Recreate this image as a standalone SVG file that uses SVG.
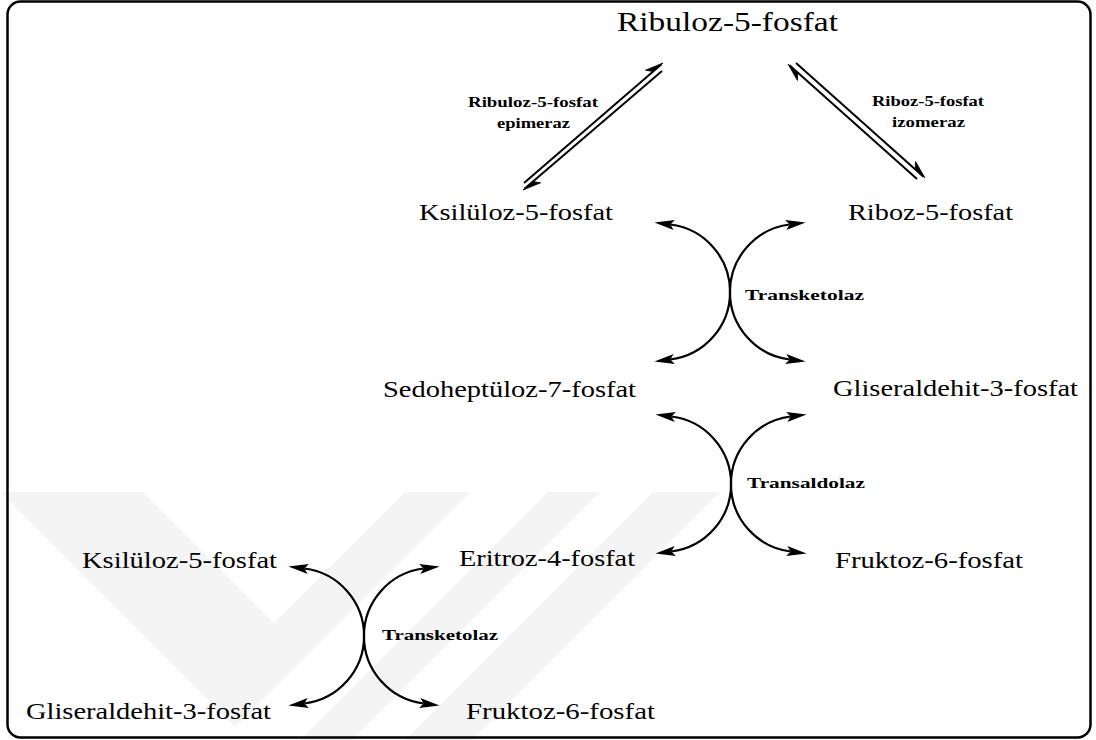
<svg xmlns="http://www.w3.org/2000/svg" width="1096" height="740" viewBox="0 0 1096 740">
<style>
.t{font-family:"Liberation Serif","Times New Roman",serif;font-size:24px;fill:#000}
.tt{font-family:"Liberation Serif","Times New Roman",serif;font-size:27px;fill:#000}
.e{font-family:"Liberation Serif","Times New Roman",serif;font-size:15px;font-weight:bold;fill:#000}
.arc{fill:none;stroke:#000;stroke-width:2.2;marker-start:url(#ah);marker-end:url(#ah)}
.ln{fill:none;stroke:#000;stroke-width:2}
.hp{fill:#000;stroke:#000;stroke-width:0.8;stroke-linejoin:round}
.wm{fill:#f4f4f4}
</style>
<defs>
<marker id="ah" markerUnits="userSpaceOnUse" viewBox="-6 -7 24 14" refX="0" refY="0" markerWidth="24" markerHeight="14" orient="auto-start-reverse" overflow="visible">
<path d="M16,0 L-4,-5 L0,0 L-4,5 Z" fill="#000"/>
</marker>
</defs>
<rect width="1096" height="740" fill="#fff"/>
<g id="watermark">
<polygon class="wm" points="0,492 143,492 274,623 405,492 470,492 235,727"/>
<polygon class="wm" points="548,492 600,492 352,740 300,740"/>
<polygon class="wm" points="653,492 720,492 472,740 405,740"/>
</g>
<rect id="frame" x="7.5" y="1.5" width="1083" height="736" rx="13" ry="13" fill="none" stroke="#000" stroke-width="2.5"/>
<g id="connectors">
<line class="ln" x1="524" y1="183" x2="661.5" y2="64.3"/>
<polygon class="hp" points="663,63 645.45,70.23 653.16,71.5"/>
<line class="ln" x1="662" y1="71" x2="524.5" y2="188.7"/>
<polygon class="hp" points="523,190 540.57,182.85 532.87,181.55"/>
<line class="ln" x1="917" y1="179" x2="789.5" y2="65.3"/>
<polygon class="hp" points="788,64 797.45,80.46 797.7,72.65"/>
<line class="ln" x1="796" y1="63" x2="923.5" y2="176.7"/>
<polygon class="hp" points="925,178 915.55,161.54 915.3,169.35"/>
<path class="arc" d="M670.3,224.5 A68,68 0 0 1 670.3,359.5"/>
<path class="arc" d="M789.7,224.5 A68,68 0 0 0 789.7,359.5"/>
<path class="arc" d="M671.3,416.5 A68,68 0 0 1 671.3,551.5"/>
<path class="arc" d="M790.7,416.5 A68,68 0 0 0 790.7,551.5"/>
<path class="arc" d="M304.3,568.5 A68,68 0 0 1 304.3,703.5"/>
<path class="arc" d="M423.7,568.5 A68,68 0 0 0 423.7,703.5"/>
</g>
<g id="enzyme-labels">
<text class="e" x="468" y="107" textLength="130" lengthAdjust="spacingAndGlyphs">Ribuloz-5-fosfat</text>
<text class="e" x="497" y="128" textLength="73" lengthAdjust="spacingAndGlyphs">epimeraz</text>
<text class="e" x="872" y="106" textLength="112" lengthAdjust="spacingAndGlyphs">Riboz-5-fosfat</text>
<text class="e" x="892" y="127" textLength="73" lengthAdjust="spacingAndGlyphs">izomeraz</text>
<text class="e" x="745" y="300" textLength="119" lengthAdjust="spacingAndGlyphs">Transketolaz</text>
<text class="e" x="747" y="488" textLength="118" lengthAdjust="spacingAndGlyphs">Transaldolaz</text>
<text class="e" x="382" y="640" textLength="116" lengthAdjust="spacingAndGlyphs">Transketolaz</text>
</g>
<g id="n-ribuloz"><text class="tt" x="617" y="31" textLength="221" lengthAdjust="spacingAndGlyphs">Ribuloz-5-fosfat</text></g>
<g id="n-ksiluloz1"><text class="t" x="419" y="220" textLength="194" lengthAdjust="spacingAndGlyphs">Ksilüloz-5-fosfat</text></g>
<g id="n-riboz"><text class="t" x="848" y="220" textLength="165" lengthAdjust="spacingAndGlyphs">Riboz-5-fosfat</text></g>
<g id="n-sedo"><text class="t" x="383" y="397" textLength="253" lengthAdjust="spacingAndGlyphs">Sedoheptüloz-7-fosfat</text></g>
<g id="n-glis1"><text class="t" x="833" y="396" textLength="245" lengthAdjust="spacingAndGlyphs">Gliseraldehit-3-fosfat</text></g>
<g id="n-eritroz"><text class="t" x="459" y="566" textLength="176" lengthAdjust="spacingAndGlyphs">Eritroz-4-fosfat</text></g>
<g id="n-fruktoz1"><text class="t" x="835" y="568" textLength="188" lengthAdjust="spacingAndGlyphs">Fruktoz-6-fosfat</text></g>
<g id="n-ksiluloz2"><text class="t" x="82" y="568" textLength="195" lengthAdjust="spacingAndGlyphs">Ksilüloz-5-fosfat</text></g>
<g id="n-glis2"><text class="t" x="26" y="719" textLength="245" lengthAdjust="spacingAndGlyphs">Gliseraldehit-3-fosfat</text></g>
<g id="n-fruktoz2"><text class="t" x="466" y="719" textLength="189" lengthAdjust="spacingAndGlyphs">Fruktoz-6-fosfat</text></g>
</svg>
